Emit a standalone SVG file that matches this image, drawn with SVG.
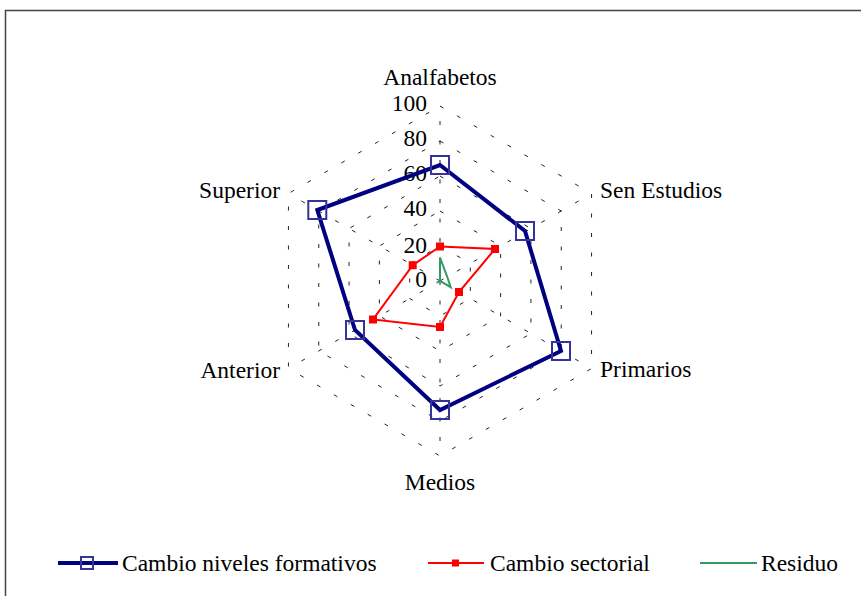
<svg xmlns="http://www.w3.org/2000/svg" width="861" height="596" viewBox="0 0 861 596">
<style>
text{font-family:"Liberation Serif","Times New Roman",serif;font-size:23.5px;fill:#000}
.grid{fill:none;stroke:#222;stroke-width:1;stroke-dasharray:4 15.5}
.blue{fill:none;stroke:#000080;stroke-width:4;stroke-linejoin:miter}
.bm{fill:none;stroke:#333399;stroke-width:2}
.red{fill:none;stroke:#FF0000;stroke-width:2}
.rm{fill:#FF0000}
.green{fill:none;stroke:#339966;stroke-width:2}
</style>
<rect width="861" height="596" fill="#fff"/>
<rect x="5.5" y="10.5" width="900" height="700" fill="none" stroke="#444" stroke-width="1.5"/>
<g id="grid">
<polygon class="grid" points="440,246 470.31,263.5 470.31,298.5 440,316 409.69,298.5 409.69,263.5"/>
<polygon class="grid" points="440,211 500.62,246 500.62,316 440,351 379.38,316 379.38,246"/>
<polygon class="grid" points="440,176 530.93,228.5 530.93,333.5 440,386 349.07,333.5 349.07,228.5"/>
<polygon class="grid" points="440,141 561.24,211 561.24,351 440,421 318.76,351 318.76,211"/>
<polygon class="grid" points="440,106 591.55,193.5 591.55,368.5 440,456 288.45,368.5 288.45,193.5"/>
<line class="grid" x1="440" y1="281" x2="440" y2="106"/>
<line class="grid" x1="440" y1="281" x2="591.55" y2="193.5"/>
<line class="grid" x1="440" y1="281" x2="591.55" y2="368.5"/>
<line class="grid" x1="440" y1="281" x2="440" y2="456"/>
<line class="grid" x1="440" y1="281" x2="288.45" y2="368.5"/>
<line class="grid" x1="440" y1="281" x2="288.45" y2="193.5"/>
</g>
<g id="scale" text-anchor="end">
<text x="427" y="111">100</text>
<text x="427" y="146">80</text>
<text x="427" y="181">60</text>
<text x="427" y="216">40</text>
<text x="427" y="253">20</text>
<text x="427" y="287">0</text>
</g>
<g id="axis-labels">
<text id="lbl-analfabetos" x="440" y="85" text-anchor="middle">Analfabetos</text>
<text id="lbl-sen-estudios" x="600" y="198">Sen Estudios</text>
<text id="lbl-primarios" x="600" y="377">Primarios</text>
<text id="lbl-medios" x="440" y="490" text-anchor="middle">Medios</text>
<text id="lbl-anterior" x="280" y="378" text-anchor="end">Anterior</text>
<text id="lbl-superior" x="280" y="198" text-anchor="end">Superior</text>
</g>
<g id="series">
<g id="s-green">
<polygon class="green" points="440,257.5 447.2,276.8 450.7,287.2 440,281 437,282.7 440,281"/>
</g>
<g id="s-red">
<polygon class="red" points="440,246.5 495,249 459,292 440,327 373,319.5 412.7,265.2"/>
<rect class="rm" x="436" y="242.5" width="8" height="8"/>
<rect class="rm" x="491" y="245" width="8" height="8"/>
<rect class="rm" x="455" y="288" width="8" height="8"/>
<rect class="rm" x="436" y="323" width="8" height="8"/>
<rect class="rm" x="369" y="315.5" width="8" height="8"/>
<rect class="rm" x="408.7" y="261.2" width="8" height="8"/>
</g>
<g id="s-blue">
<polygon class="blue" points="440,165 525,231 561,351 440,410 355,330 317.3,210"/>
<rect class="bm" x="431" y="156" width="18" height="18"/>
<rect class="bm" x="516" y="222" width="18" height="18"/>
<rect class="bm" x="552" y="342" width="18" height="18"/>
<rect class="bm" x="431" y="401" width="18" height="18"/>
<rect class="bm" x="346" y="321" width="18" height="18"/>
<rect class="bm" x="308.3" y="201" width="18" height="18"/>
</g>
</g>
<g id="legend">
<g id="leg-blue">
<line x1="58" y1="563" x2="118" y2="563" stroke="#000080" stroke-width="4"/>
<rect class="bm" x="81" y="557" width="12" height="12"/>
<text x="122" y="571">Cambio niveles formativos</text>
</g>
<g id="leg-red">
<line x1="428" y1="563" x2="484" y2="563" stroke="#FF0000" stroke-width="2"/>
<rect class="rm" x="452" y="559.5" width="7" height="7"/>
<text x="490" y="571">Cambio sectorial</text>
</g>
<g id="leg-green">
<line x1="700" y1="563" x2="757" y2="563" stroke="#339966" stroke-width="2"/>
<text x="761" y="571">Residuo</text>
</g>
</g>
</svg>
